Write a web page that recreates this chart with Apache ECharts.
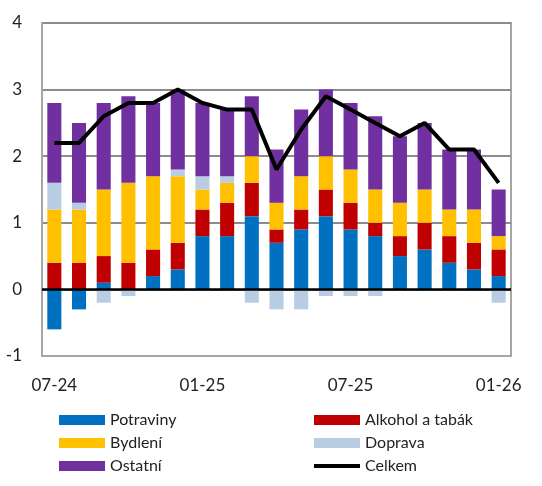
<!DOCTYPE html>
<html>
<head>
<meta charset="utf-8">
<script src="https://cdn.jsdelivr.net/npm/echarts@6/dist/echarts.min.js"></script>
<style>
  html, body { margin: 0; padding: 0; background: #fff; }
  #chart { width: 542px; height: 486px; }
</style>
</head>
<body>
<div id="chart"></div>
<script>
const months = ['07-24', '08-24', '09-24', '10-24', '11-24', '12-24', '01-25', '02-25', '03-25', '04-25',
  '05-25', '06-25', '07-25', '08-25', '09-25', '10-25', '11-25', '12-25', '01-26'];
const potraviny = [-0.6, -0.3, 0.1, 0, 0.2, 0.3, 0.8, 0.8, 1.1, 0.7, 0.9, 1.1, 0.9, 0.8, 0.5, 0.6, 0.4, 0.3, 0.2];
const alkohol = [0.4, 0.4, 0.4, 0.4, 0.4, 0.4, 0.4, 0.5, 0.5, 0.2, 0.3, 0.4, 0.4, 0.2, 0.3, 0.4, 0.4, 0.4, 0.4];
const bydleni = [0.8, 0.8, 1.0, 1.2, 1.1, 1.0, 0.3, 0.3, 0.4, 0.4, 0.5, 0.5, 0.5, 0.5, 0.5, 0.5, 0.4, 0.5, 0.2];
const doprava = [0.4, 0.1, -0.2, -0.1, 0, 0.1, 0.2, 0.1, -0.2, -0.3, -0.3, -0.1, -0.1, -0.1, 0, 0, 0, 0, -0.2];
const ostatni = [1.2, 1.2, 1.3, 1.3, 1.1, 1.2, 1.1, 1.0, 0.9, 0.8, 1.0, 1.0, 1.0, 1.1, 1.0, 1.0, 0.9, 0.9, 0.7];
const celkem = [2.2, 2.2, 2.6, 2.8, 2.8, 3.0, 2.8, 2.7, 2.7, 1.8, 2.4, 2.9, 2.7, 2.5, 2.3, 2.5, 2.1, 2.1, 1.6];

const font = 'Lato';
const textColor = '#222';

function bar(name, data, color) {
  return {
    name: name,
    type: 'bar',
    stack: 'total',
    barWidth: '57%',
    data: data,
    itemStyle: { color: color }
  };
}

// legend column, bars get plain rects, the line keeps its own line icon
function legendCol(left, names) {
  return {
    orient: 'vertical',
    left: left,
    top: 407,
    itemWidth: 46,
    itemHeight: 10,
    itemGap: 7,
    textStyle: { fontSize: 16, color: textColor, fontFamily: font },
    data: names.map(n => n === 'Celkem'
      ? {
          name: n,
          itemStyle: { color: 'rgba(0,0,0,0)', borderColor: 'rgba(0,0,0,0)', borderWidth: 0 },
          lineStyle: { color: '#000', width: 4 }
        }
      : { name: n, icon: 'rect' })
  };
}

let chart = echarts.init(document.getElementById('chart'));
chart.setOption({
  animation: false,
  textStyle: { fontFamily: font },
  grid: {
    left: 42,
    right: 31,
    top: 23,
    bottom: 130,
    show: true,
    borderColor: '#a6a6a6',
    borderWidth: 2
  },
  legend: [
    legendCol(54, ['Potraviny', 'Bydlení', 'Ostatní']),
    legendCol(307, ['Alkohol a tabák', 'Doprava', 'Celkem'])
  ],
  xAxis: {
    type: 'category',
    data: months,
    axisLine: { onZero: false, lineStyle: { color: '#a6a6a6', width: 2 } },
    axisTick: { show: false },
    axisLabel: {
      interval: 5,
      margin: 21,
      fontSize: 17,
      color: textColor,
      fontFamily: font
    }
  },
  yAxis: {
    type: 'value',
    min: -1,
    max: 4,
    interval: 1,
    axisLine: { show: true, lineStyle: { color: '#a6a6a6', width: 2 } },
    axisTick: { show: false },
    axisLabel: { fontSize: 17, color: textColor, margin: 20, fontFamily: font },
    splitLine: { lineStyle: { color: '#8c8c8c', width: 2 } }
  },
  series: [
    bar('Potraviny', potraviny, '#0070C0'),
    bar('Alkohol a tabák', alkohol, '#C00000'),
    bar('Bydlení', bydleni, '#FFC000'),
    bar('Doprava', doprava, '#B8CCE4'),
    bar('Ostatní', ostatni, '#7030A0'),
    {
      name: 'Celkem',
      type: 'line',
      data: celkem,
      symbol: 'none',
      z: 5,
      lineStyle: { color: '#000', width: 4 },
      itemStyle: { color: '#000' },
      markLine: {
        silent: true,
        symbol: 'none',
        label: { show: false },
        lineStyle: { color: '#000', width: 2.5, type: 'solid' },
        data: [{ yAxis: 0 }]
      }
    }
  ]
});
</script>
</body>
</html>
